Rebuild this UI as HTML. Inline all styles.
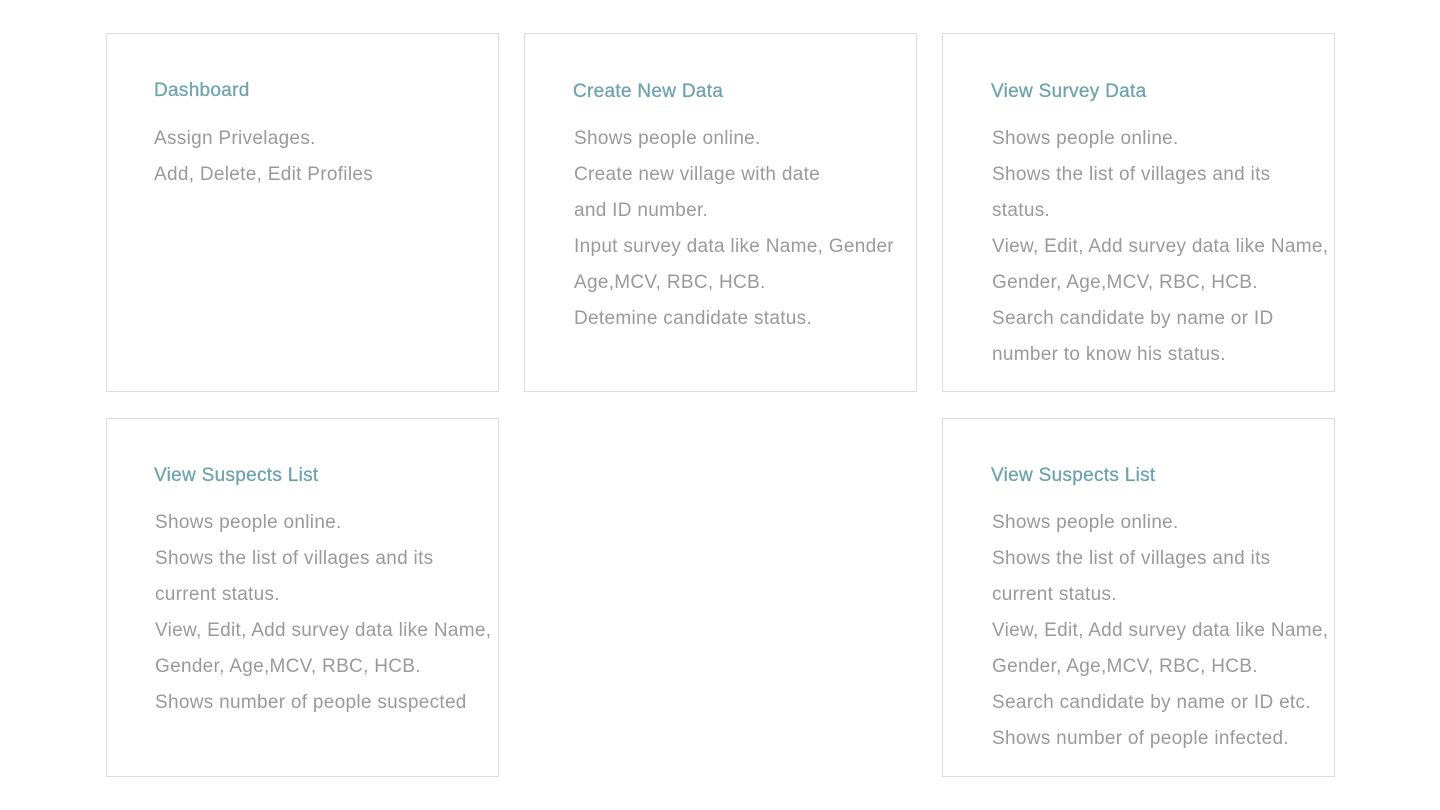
<!DOCTYPE html>
<html><head><style>
body{margin:0;width:1440px;height:810px;background:#fff;position:relative;font-family:"Liberation Sans",sans-serif;overflow:hidden}
.b{position:absolute;border:1px solid #dcdcdc;box-sizing:border-box}
.t{position:absolute;font-size:19px;color:#6fa3ae;line-height:22px;white-space:nowrap;letter-spacing:0.3px;-webkit-text-stroke:0.3px #6fa3ae}
.l{position:absolute;font-size:19px;color:#9a9a9a;line-height:36px;white-space:nowrap;letter-spacing:0.3px}
</style></head><body>
<div class="b" style="left:106px;top:33px;width:393px;height:359px"></div>
<div class="b" style="left:524px;top:33px;width:393px;height:359px"></div>
<div class="b" style="left:942px;top:33px;width:393px;height:359px"></div>
<div class="b" style="left:106px;top:418px;width:393px;height:359px"></div>
<div class="b" style="left:942px;top:418px;width:393px;height:359px"></div>

<div class="t" style="left:154px;top:80px">Dashboard</div>
<div class="l" style="left:154px;top:121px">Assign Privelages.<br>Add, Delete, Edit Profiles</div>

<div class="t" style="left:573px;top:81px">Create New Data</div>
<div class="l" style="left:574px;top:121px">Shows people online.<br>Create new village with date<br>and ID number.<br>Input survey data like Name, Gender<br>Age,MCV, RBC, HCB.<br>Detemine candidate status.</div>

<div class="t" style="left:991px;top:81px">View Survey Data</div>
<div class="l" style="left:992px;top:121px">Shows people online.<br>Shows the list of villages and its<br>status.<br>View, Edit, Add survey data like Name,<br>Gender, Age,MCV, RBC, HCB.<br>Search candidate by name or ID<br>number to know his status.</div>

<div class="t" style="left:154px;top:465px">View Suspects List</div>
<div class="l" style="left:155px;top:505px">Shows people online.<br>Shows the list of villages and its<br>current status.<br>View, Edit, Add survey data like Name,<br>Gender, Age,MCV, RBC, HCB.<br>Shows number of people suspected</div>

<div class="t" style="left:991px;top:465px">View Suspects List</div>
<div class="l" style="left:992px;top:505px">Shows people online.<br>Shows the list of villages and its<br>current status.<br>View, Edit, Add survey data like Name,<br>Gender, Age,MCV, RBC, HCB.<br>Search candidate by name or ID etc.<br>Shows number of people infected.</div>
</body></html>
